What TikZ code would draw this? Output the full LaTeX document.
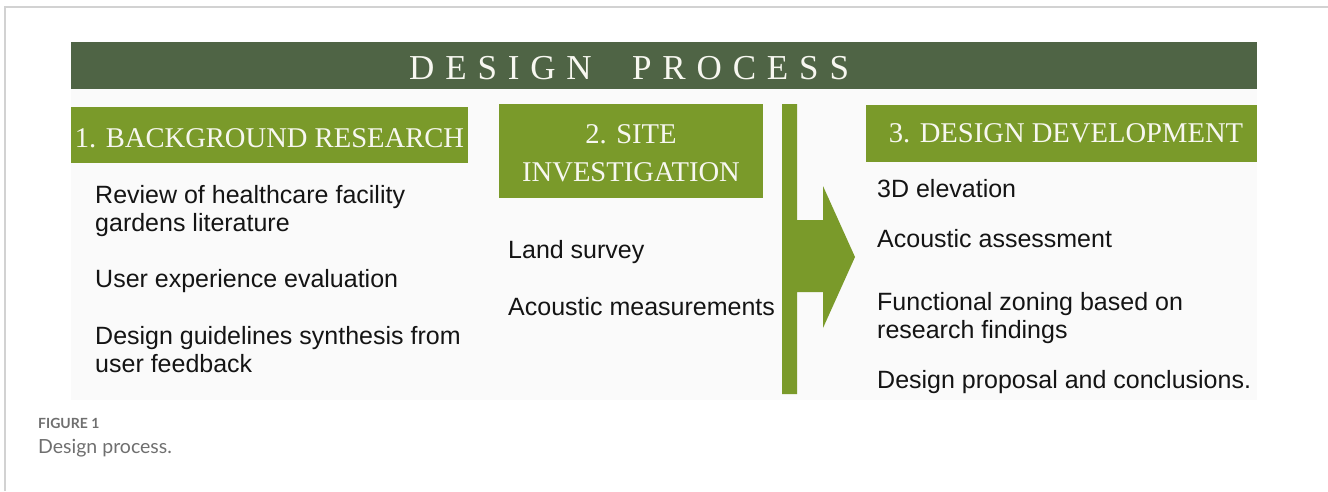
\documentclass[tikz,border=0pt]{standalone}
\usepackage{fontspec}
\setmainfont{Liberation Serif}
\newfontfamily\bodyfont{Liberation Sans}
\newfontfamily\capfont{Lato}
\newfontfamily\bannerfont[LetterSpace=31]{Liberation Serif}
\definecolor{bannergreen}{HTML}{4F6445}
\definecolor{olivegreen}{HTML}{7A9A2A}
\definecolor{framegray}{HTML}{D2D2D2}
\definecolor{capgray}{HTML}{6F6F6F}
\definecolor{panelbg}{HTML}{FAFAFA}
\definecolor{titletext}{HTML}{F7F7F0}
\tikzset{
  panel/.style={fill=olivegreen, draw=none, inner sep=0pt, anchor=north west},
  boxtitle/.style={anchor=base, inner sep=0pt, text=titletext,
    font=\fontsize{28.6}{34}\selectfont},
  bannerword/.style={anchor=base west, inner sep=0pt, text=titletext,
    font=\bannerfont\fontsize{35}{40}\selectfont},
  item/.style={anchor=base west, inner sep=0pt, text=black!92,
    font=\bodyfont\fontsize{25}{28}\selectfont},
}
\begin{document}
\begin{tikzpicture}[x=1pt, y=-1pt]
  \useasboundingbox (0,0) rectangle (1328,491);
  % open frame (top and left rules)
  \draw[framegray, line width=1.5pt] (5,491) -- (5,7) -- (1328,7);
  % light panel behind the diagram
  \fill[panelbg] (71,89) rectangle (1257,400);

  % banner
  \node[fill=bannergreen, inner sep=0pt, anchor=north west,
        minimum width=1186pt, minimum height=47pt] (banner) at (71,42) {};
  \node[bannerword] (bannerw1) at (409,79) {DESIGN};
  \node[bannerword] (bannerw2) at (632,79) {PROCESS};

  % step headers
  \node[panel, minimum width=397pt, minimum height=56pt] (b1) at (71,107) {};
  \node[boxtitle] (t1) at (269.5,147) {1. BACKGROUND RESEARCH};

  \node[panel, minimum width=264pt, minimum height=94pt] (b2) at (499,104) {};
  \node[boxtitle] (t2a) at (631,143) {2. SITE};
  \node[boxtitle] (t2b) at (631,181) {INVESTIGATION};

  \node[panel, minimum width=391pt, minimum height=57pt] (b3) at (866,105) {};
  \node[boxtitle] (t3) at (1066,142) {3. DESIGN DEVELOPMENT};

  % divider bar with arrow
  \fill[olivegreen] (782,104) -- (797,104) -- (797,220) -- (823,220) -- (823,186)
    -- (855,257) -- (823,328) -- (823,292) -- (797,292) -- (797,394)
    -- (782,394) -- cycle;

  % column 1
  \node[item] (c1a) at (95,203) {Review of healthcare facility};
  \node[item] (c1b) at (95,231) {gardens literature};
  \node[item] (c1c) at (95,287) {User experience evaluation};
  \node[item] (c1d) at (95,344) {Design guidelines synthesis from};
  \node[item] (c1e) at (95,372) {user feedback};

  % column 2
  \node[item] (c2a) at (508,258) {Land survey};
  \node[item] (c2b) at (508,315) {Acoustic measurements};

  % column 3
  \node[item] (c3a) at (877,197) {3D elevation};
  \node[item] (c3b) at (877,247) {Acoustic assessment};
  \node[item] (c3c) at (877,310) {Functional zoning based on};
  \node[item] (c3d) at (877,338) {research findings};
  \node[item] (c3e) at (877,388) {Design proposal and conclusions.};

  % caption
  \node[anchor=base west, inner sep=0pt, text=capgray,
        font=\capfont\bfseries\fontsize{14}{16}\selectfont] (figlabel) at (38,428) {FIGURE 1};
  \node[anchor=base west, inner sep=0pt, text=capgray,
        font=\capfont\fontsize{19.5}{22}\selectfont] (figcap) at (38,453) {Design process.};
\end{tikzpicture}
\end{document}
